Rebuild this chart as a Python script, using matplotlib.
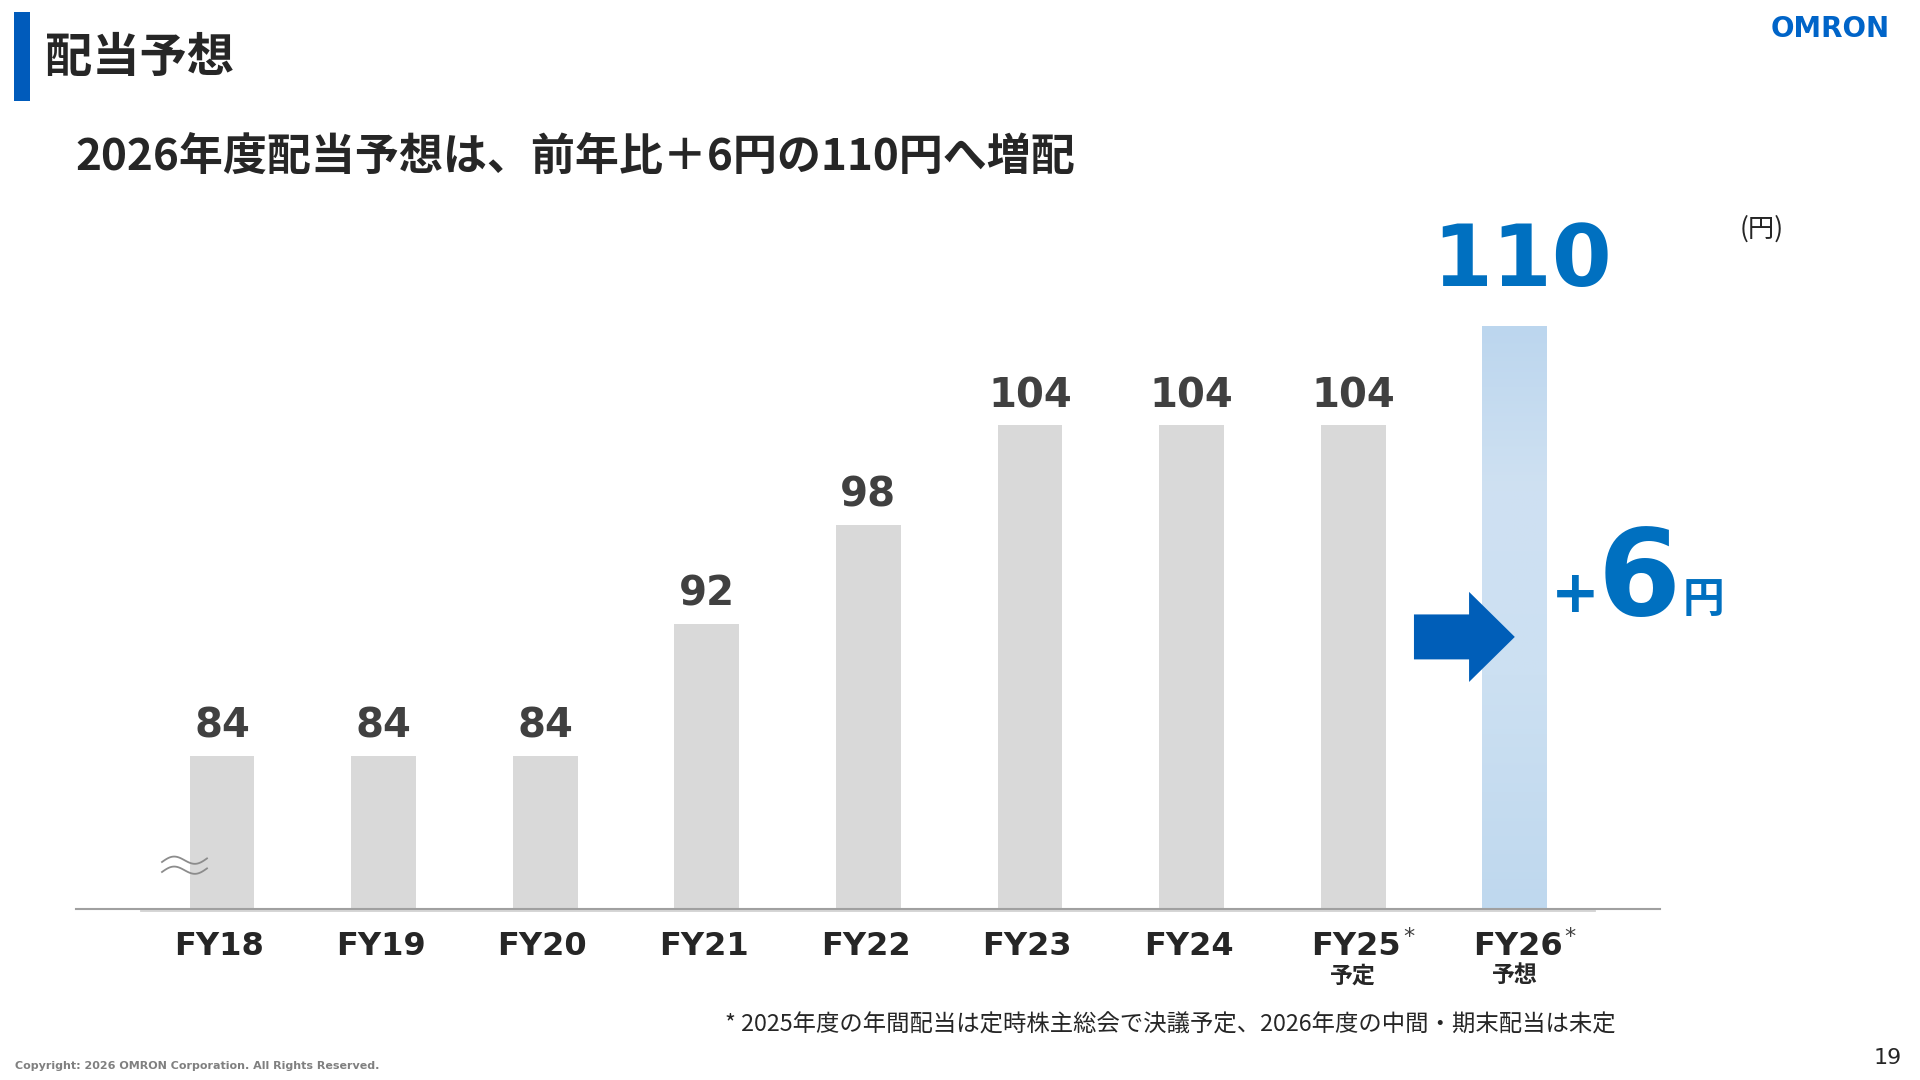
import matplotlib
matplotlib.use('Agg')
import matplotlib.pyplot as plt
import numpy as np
from matplotlib.patches import Rectangle, FancyArrow
from matplotlib.lines import Line2D
from matplotlib.colors import to_rgb
from matplotlib.transforms import ScaledTranslation

# ---------------- data ----------------
categories = ['FY18', 'FY19', 'FY20', 'FY21', 'FY22', 'FY23', 'FY24', 'FY25', 'FY26']
dividends = [84, 84, 84, 92, 98, 104, 104, 104, 110]
sub_labels = ['', '', '', '', '', '', '', '予定', '予想']
has_star = [False, False, False, False, False, False, False, True, True]
increase = 6

title = '配当予想'
subtitle = '2026年度配当予想は、前年比＋6円の110円へ増配'
unit = '(円)'
footnote = '* 2025年度の年間配当は定時株主総会で決議予定、2026年度の中間・期末配当は未定'
copyright_txt = 'Copyright: 2026 OMRON Corporation. All Rights Reserved.'
page_no = '19'

CJK = ['Noto Sans CJK JP', 'DejaVu Sans']
LAT = ['DejaVu Sans', 'Noto Sans CJK JP']
plt.rcParams['font.family'] = CJK

W, H = 1920, 1080
fig = plt.figure(figsize=(19.2, 10.8), dpi=100)
fig.patch.set_facecolor('white')


def fx(x):
    return x / W


def fy(y):
    return 1 - y / H


# ---------------- axes ----------------
ax_left, ax_right, ax_bottom, ax_top = 76, 1660, 909, 200
ax = fig.add_axes([fx(ax_left), fy(ax_bottom), fx(ax_right) - fx(ax_left), fy(ax_top) - fy(ax_bottom)])
x = np.arange(len(categories))
ymin = 74.74
ymax = ymin + (ax_bottom - ax_top) / 16.53
bar_w = 0.40

ax.bar(x[:-1], dividends[:-1], width=bar_w, color='#D9D9D9', zorder=2)
last = ax.bar(x[-1:], dividends[-1:], width=bar_w, color='none', zorder=2)[0]

# gradient fill for the forecast bar
stops = [(0.0, '#BCD6EE'), (0.28, '#CFE1F2'), (0.6, '#CCE0F2'), (1.0, '#BFD8EE')]
n = 200
tt = np.linspace(0, 1, n)
grad = np.zeros((n, 1, 3))
for c in range(3):
    grad[:, 0, c] = np.interp(tt, [s[0] for s in stops], [to_rgb(s[1])[c] for s in stops])
im = ax.imshow(grad, extent=[x[-1] - bar_w / 2, x[-1] + bar_w / 2, ymin, dividends[-1]],
               aspect='auto', origin='upper', zorder=2)
im.set_clip_path(last)

ax.set_xlim(-(222 - ax_left) / 161.6, (ax_right - 222) / 161.6)
ax.set_ylim(ymin, ymax)
for s in ['top', 'right', 'left']:
    ax.spines[s].set_visible(False)
ax.spines['bottom'].set_color('#A0A0A0')
ax.spines['bottom'].set_linewidth(1.5)
ax.spines['bottom'].set_zorder(3)
ax.set_xticks([])
ax.set_yticks([])

# value labels
for i in range(len(categories) - 1):
    ax.annotate(str(dividends[i]), xy=(x[i], dividends[i]), xytext=(0, 13), textcoords='offset points',
                ha='center', va='baseline', fontsize=29, fontweight='bold', color='#404040', family=LAT)
ax.annotate(str(dividends[-1]), xy=(x[-1], dividends[-1]), xytext=(5, 29), textcoords='offset points',
            ha='center', va='baseline', fontsize=62, fontweight='bold', color='#0070C0', family=LAT)

# category labels
for i, cat in enumerate(categories):
    dx = 2 if has_star[i] else -2
    ax.annotate(cat, xy=(x[i], 0), xycoords=('data', 'axes fraction'), xytext=(dx, -33),
                textcoords='offset points', ha='center', va='baseline', fontsize=23,
                fontweight='bold', color='#262626', family=LAT, annotation_clip=False)
    if sub_labels[i]:
        ax.annotate(sub_labels[i], xy=(x[i], 0), xycoords=('data', 'axes fraction'), xytext=(0, -48),
                    textcoords='offset points', ha='center', va='center', fontsize=16.5,
                    fontweight='bold', color='#262626', family=CJK, annotation_clip=False)
    if has_star[i]:
        ax.annotate('*', xy=(x[i], 0), xycoords=('data', 'axes fraction'), xytext=(40, -20),
                    textcoords='offset points', ha='center', va='center', fontsize=16,
                    color='#404040', family=LAT, annotation_clip=False)

# arrow pointing to the forecast bar
arrow_y = 91.2
ax.add_patch(FancyArrow(x[-1] - 0.624, arrow_y, 0.624, 0, width=2.72, head_width=5.45,
                        head_length=0.283, length_includes_head=True, color='#005EB8', lw=0, zorder=4))

# secondary light baseline
ax.plot([-0.50, 8.496], [ymin, ymin], color='#D2D2D2', lw=1.3, zorder=1, clip_on=False,
        transform=ax.transData + ScaledTranslation(0, -1.8 / 100, fig.dpi_scale_trans))

# break mark (≈)
for dy in (0, 10):
    xs = np.linspace(162, 207, 60)
    ys = 862 + dy - 4.5 * np.sin(2 * np.pi * (xs - 162) / 45) - (xs - 162) * 0.08
    fig.add_artist(Line2D(fx(xs), fy(ys), color='#8C8C8C', lw=1.3))

# ---------------- texts ----------------
fig.add_artist(Rectangle((fx(14), fy(101)), fx(16), fy(12) - fy(101), transform=fig.transFigure,
                         facecolor='#005BBB', edgecolor='none'))
fig.text(fx(45), fy(58), title, ha='left', va='center', fontsize=34, fontweight='bold',
         color='#262626', family=CJK)
fig.text(fx(75), fy(157), subtitle, ha='left', va='center', fontsize=31.7, fontweight='bold',
         color='#262626', family=CJK)
fig.text(fx(1762), fy(229), unit, ha='center', va='center', fontsize=19, color='#262626', family=CJK)
fig.text(fx(1830), fy(29), 'OMRON', ha='center', va='center', fontsize=20, fontweight='bold',
         color='#0064C8', family=LAT)

fig.text(fx(1575), fy(612), '+', ha='center', va='baseline', fontsize=42, fontweight='bold',
         color='#0070C0', family=LAT)
fig.text(fx(1639), fy(615), str(increase), ha='center', va='baseline', fontsize=86, fontweight='bold',
         color='#0070C0', family=LAT)
fig.text(fx(1703), fy(612), '円', ha='center', va='baseline', fontsize=30, fontweight='bold',
         color='#0070C0', family=CJK)

fig.text(fx(725), fy(1025), footnote, ha='left', va='center', fontsize=16.8, color='#262626', family=CJK)
fig.text(fx(15), fy(1066), copyright_txt, ha='left', va='center', fontsize=8, fontweight='bold',
         color='#808080', family=LAT)
fig.text(fx(1888), fy(1058), page_no, ha='center', va='center', fontsize=16, color='#262626', family=LAT)

fig.savefig('out.png', dpi=100)
